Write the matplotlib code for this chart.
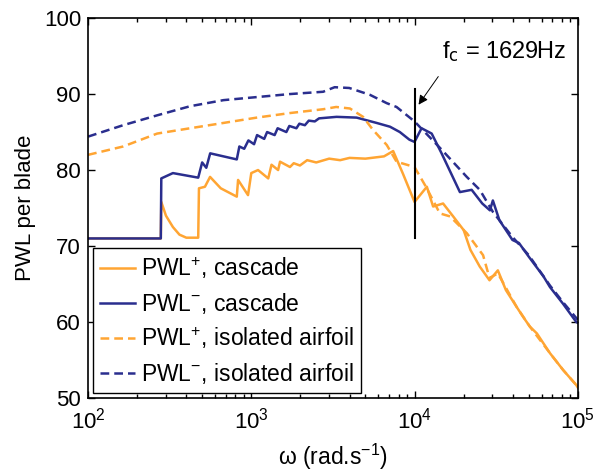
import matplotlib
matplotlib.use('Agg')
import matplotlib.pyplot as plt

plt.rcParams['font.family'] = ['Liberation Sans', 'DejaVu Sans']
plt.rcParams['mathtext.fontset'] = 'custom'
plt.rcParams['mathtext.rm'] = 'Liberation Sans'
plt.rcParams['mathtext.it'] = 'Liberation Sans'
plt.rcParams['mathtext.default'] = 'regular'

ORANGE = '#FFA533'
BLUE = '#2A2E8E'

# PWL+ cascade (solid orange)
w_plus_cas = [100, 279, 281, 300, 331, 363, 400, 473, 478, 520, 559, 650, 815, 830, 955,
              1000, 1100, 1270, 1330, 1460, 1500, 1726, 1820, 1986, 2200, 2500, 3000,
              3500, 4000, 5000, 6500, 7400, 8500, 10000, 11900, 13000, 14960, 17250,
              20000, 22000, 25100, 28800, 32400, 36300, 42200, 46200, 50900, 56200,
              67600, 81300, 98000, 100000]
pwl_plus_cas = [71.0, 71.0, 75.8, 74.0, 72.5, 71.5, 71.1, 71.1, 77.6, 77.8, 79.1, 77.6, 76.5, 78.7, 76.7,
                79.6, 80.0, 78.9, 80.7, 80.0, 81.1, 80.4, 80.9, 80.6, 81.3, 81.0, 81.5,
                81.3, 81.6, 81.5, 81.8, 82.5, 79.5, 75.8, 77.8, 75.2, 75.6, 73.9,
                72.1, 69.5, 67.3, 65.5, 66.8, 64.2, 62.0, 60.7, 59.4, 58.5,
                55.9, 53.7, 51.7, 51.4]

# PWL- cascade (solid blue)
w_minus_cas = [100, 279, 281, 331, 473, 500, 530, 560, 815, 845, 905, 960, 1040, 1085, 1200,
               1250, 1390, 1450, 1640, 1710, 1890, 1970, 2130, 2250, 2450, 2600, 3330,
               4420, 5860, 7080, 8130, 9300, 10000, 11040, 12740, 14650, 18970, 22390,
               26000, 28970, 30200, 33110, 39810, 43650, 50120, 61700, 67600, 81300,
               98000, 100000]
pwl_minus_cas = [71.0, 71.0, 78.9, 79.6, 79.0, 81.0, 80.3, 82.2, 81.4, 83.1, 82.8, 83.9, 83.4, 84.6, 84.1,
                 85.0, 84.6, 85.5, 85.0, 85.8, 85.5, 86.1, 85.9, 86.5, 86.4, 86.8, 87.0,
                 86.9, 86.2, 85.7, 85.0, 84.0, 83.7, 85.5, 84.8, 82.2, 77.1, 77.4,
                 75.6, 74.7, 76.0, 73.4, 70.8, 70.4, 68.6, 66.0, 64.6, 62.4,
                 60.0, 59.9]

# PWL+ isolated airfoil (dashed orange)
w_plus_iso = [100, 164, 265, 422, 676, 1080, 1726, 2754, 3310, 4020, 4840, 5560,
              6760, 7760, 10000, 11750, 14290, 16500, 20900, 26300, 28800, 32400,
              42200, 50900, 67600, 81300, 100000]
pwl_plus_iso = [82.0, 83.1, 84.8, 85.5, 86.2, 86.9, 87.5, 88.0, 88.3, 88.1, 87.0, 85.3,
                83.3, 81.1, 80.4, 77.8, 74.3, 73.9, 71.7, 68.8, 65.8, 66.4,
                62.0, 59.4, 55.9, 53.7, 51.5]

# PWL- isolated airfoil (dashed blue)
w_minus_iso = [100, 164, 265, 422, 676, 1080, 1726, 2754, 3240, 3980, 5330, 6760,
               7760, 10000, 14790, 20900, 25100, 30200, 39800, 50100, 67600, 81300, 100000]
pwl_minus_iso = [84.4, 85.9, 87.2, 88.4, 89.2, 89.6, 90.0, 90.3, 90.9, 90.8, 89.9, 88.8,
                 88.3, 86.4, 82.6, 79.1, 77.4, 74.5, 71.2, 68.8, 64.8, 62.6, 60.3]

fc_omega = 1e4
fc_span = [71.0, 90.7]

fig = plt.figure(figsize=(5.95, 4.75), dpi=100)
ax = fig.add_axes([0.148, 0.162, 0.823, 0.800])

dash = (0, (3.5, 2.0))
ax.plot(w_plus_cas, pwl_plus_cas, color=ORANGE, lw=1.8, label='PWL$^{+}$, cascade')
ax.plot(w_minus_cas, pwl_minus_cas, color=BLUE, lw=1.8, label='PWL$^{-}$, cascade')
ax.plot(w_plus_iso, pwl_plus_iso, color=ORANGE, lw=1.8, ls=dash, label='PWL$^{+}$, isolated airfoil')
ax.plot(w_minus_iso, pwl_minus_iso, color=BLUE, lw=1.8, ls=dash, label='PWL$^{-}$, isolated airfoil')

ax.plot([fc_omega, fc_omega], fc_span, color='k', lw=1.5)
ax.annotate('', xy=(10350, 88.3), xytext=(14300, 92.6),
            arrowprops=dict(arrowstyle='-|>', color='k', lw=0.7, mutation_scale=14))
ax.text(14700, 94.7, 'f$_{\\mathsf{c}}$ = 1629Hz', fontsize=17, ha='left', va='baseline')

ax.set_xscale('log')
ax.set_xlim(100, 1e5)
ax.set_ylim(50, 100)
ax.set_yticks([50, 60, 70, 80, 90, 100])
ax.tick_params(which='both', direction='in', top=True, right=True, labelsize=16, width=1.0)
ax.tick_params(which='major', length=5)
ax.tick_params(which='minor', length=3)
ax.tick_params(axis='x', pad=7)
ax.tick_params(axis='y', pad=5)
for s in ax.spines.values():
    s.set_linewidth(1.2)

ax.set_xlabel('ω (rad.s$^{-1}$)', fontsize=16.5, labelpad=6)
ax.set_ylabel('PWL per blade', fontsize=16, labelpad=6)

leg = ax.legend(loc='lower left', fontsize=16.5, frameon=True, fancybox=False,
                edgecolor='k', framealpha=1, handlelength=1.5, handletextpad=0.25,
                borderaxespad=0.22, borderpad=0.32, labelspacing=0.42)
leg.get_frame().set_linewidth(1.0)

fig.savefig('out.png', dpi=100)
